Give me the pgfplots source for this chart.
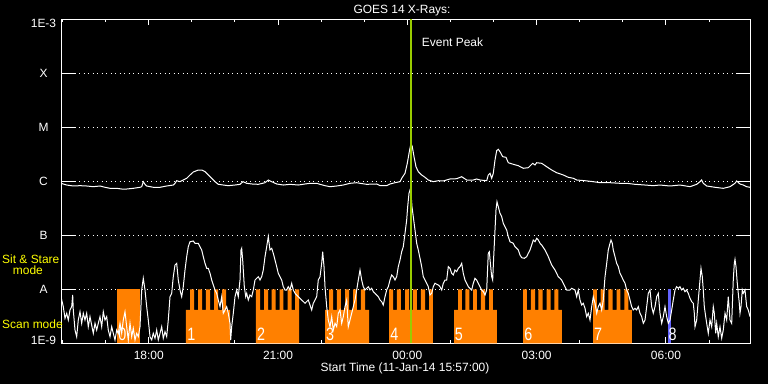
\documentclass[border=0pt]{standalone}
\usepackage{fontspec}
\setmainfont{Liberation Sans}
\usepackage{graphicx}
\usepackage{pgfplots}
\pgfplotsset{compat=1.18}
\definecolor{scanorange}{RGB}{255,128,0}
\definecolor{peakgreen}{RGB}{153,204,0}
\definecolor{ssblue}{RGB}{100,100,255}
\definecolor{labyellow}{RGB}{255,255,0}
\newcommand\txt{\fontsize{12}{14}\selectfont}
\newcommand\blk[1]{\scalebox{0.8}[1]{\fontsize{18}{18}\selectfont #1}}
\begin{document}
\begin{tikzpicture}
\fill[black] (-61bp,-40.7bp) rectangle (707bp,343.3bp);
\begin{axis}[
  at={(0,0)}, anchor=south west, scale only axis,
  width=689bp, height=324bp,
  xmin=15.965, xmax=31.95, ymin=-9, ymax=-3,
  axis line style={white, line width=1bp},
  xtick={18,21,24,27,30},
  xticklabels={18:00,21:00,00:00,03:00,06:00},
  minor xtick={16,17,19,20,22,23,25,26,28,29,31},
  major tick length=6bp, minor tick length=3bp,
  every tick/.style={white, line width=1bp},
  ytick={-9,-8,-7,-6,-5,-4,-3},
  yticklabels={\raisebox{3.6bp}{1E-9},A,B,C,M,X,\raisebox{-4bp}{1E-3}},
  ytick style={draw=none},
  ymajorgrids,
  major grid style={white, line width=1bp, dash pattern=on 1bp off 3.5bp},
  tick label style={white, font=\txt},
  xticklabel style={anchor=base, yshift=-16bp},
  yticklabel style={anchor=base, xshift=-17.5bp, yshift=-4.3bp},
]
% scan / sit-and-stare blocks
\addplot[fill=scanorange, draw=none] coordinates {(17.264,-9) (17.264,-8) (17.798,-8) (17.798,-9)};
\addplot[fill=scanorange, draw=none] coordinates {(18.865,-9) (18.865,-8.383) (18.958,-8.383) (18.958,-8) (19.051,-8) (19.051,-8.383) (19.144,-8.383) (19.144,-8) (19.237,-8) (19.237,-8.383) (19.329,-8.383) (19.329,-8) (19.422,-8) (19.422,-8.383) (19.515,-8.383) (19.515,-8) (19.608,-8) (19.608,-8.383) (19.701,-8.383) (19.701,-8) (19.794,-8) (19.794,-8.383) (19.886,-8.383) (19.886,-9)};
\addplot[fill=scanorange, draw=none] coordinates {(20.489,-9) (20.489,-8) (20.582,-8) (20.582,-8.383) (20.675,-8.383) (20.675,-8) (20.768,-8) (20.768,-8.383) (20.849,-8.383) (20.849,-8) (20.942,-8) (20.942,-8.383) (21.035,-8.383) (21.035,-8) (21.127,-8) (21.127,-8.383) (21.220,-8.383) (21.220,-8) (21.313,-8) (21.313,-8.383) (21.394,-8.383) (21.394,-8) (21.487,-8) (21.487,-9)};
\addplot[fill=scanorange, draw=none] coordinates {(22.090,-9) (22.090,-8.383) (22.183,-8.383) (22.183,-8) (22.276,-8) (22.276,-8.383) (22.368,-8.383) (22.368,-8) (22.461,-8) (22.461,-8.383) (22.554,-8.383) (22.554,-8) (22.647,-8) (22.647,-8.383) (22.740,-8.383) (22.740,-8) (22.832,-8) (22.832,-8.383) (22.925,-8.383) (22.925,-8) (23.018,-8) (23.018,-8.383) (23.111,-8.383) (23.111,-9)};
\addplot[fill=scanorange, draw=none] coordinates {(23.575,-9) (23.575,-8) (23.668,-8) (23.668,-8.383) (23.760,-8.383) (23.760,-8) (23.853,-8) (23.853,-8.383) (23.946,-8.383) (23.946,-8) (24.039,-8) (24.039,-8.383) (24.131,-8.383) (24.131,-8) (24.224,-8) (24.224,-8.383) (24.317,-8.383) (24.317,-8) (24.410,-8) (24.410,-8.383) (24.503,-8.383) (24.503,-8) (24.595,-8) (24.595,-9)};
\addplot[fill=scanorange, draw=none] coordinates {(25.083,-9) (25.083,-8.383) (25.176,-8.383) (25.176,-8) (25.268,-8) (25.268,-8.383) (25.349,-8.383) (25.349,-8) (25.442,-8) (25.442,-8.383) (25.524,-8.383) (25.524,-8) (25.616,-8) (25.616,-8.383) (25.709,-8.383) (25.709,-8) (25.802,-8) (25.802,-8.383) (25.895,-8.383) (25.895,-8) (25.987,-8) (25.987,-8.383) (26.080,-8.383) (26.080,-9)};
\addplot[fill=scanorange, draw=none] coordinates {(26.684,-9) (26.684,-8) (26.776,-8) (26.776,-8.383) (26.869,-8.383) (26.869,-8) (26.962,-8) (26.962,-8.383) (27.043,-8.383) (27.043,-8) (27.136,-8) (27.136,-8.383) (27.229,-8.383) (27.229,-8) (27.322,-8) (27.322,-8.383) (27.414,-8.383) (27.414,-8) (27.507,-8) (27.507,-8.383) (27.588,-8.383) (27.588,-9)};
\addplot[fill=scanorange, draw=none] coordinates {(28.308,-9) (28.308,-8) (28.400,-8) (28.400,-8.383) (28.482,-8.383) (28.482,-8) (28.575,-8) (28.575,-8.383) (28.667,-8.383) (28.667,-8) (28.760,-8) (28.760,-8.383) (28.853,-8.383) (28.853,-8) (28.945,-8) (28.945,-8.383) (29.038,-8.383) (29.038,-8) (29.131,-8) (29.131,-8.383) (29.212,-8.383) (29.212,-9)};
\addplot[fill=ssblue, draw=none] coordinates {(30.041,-9) (30.041,-8) (30.117,-8) (30.117,-9)};
% block numbers
\node[anchor=base west, inner sep=0, white] at (axis cs:17.29,-8.939) {\blk{0}};
\node[anchor=base west, inner sep=0, white] at (axis cs:18.89,-8.939) {\blk{1}};
\node[anchor=base west, inner sep=0, white] at (axis cs:20.51,-8.939) {\blk{2}};
\node[anchor=base west, inner sep=0, white] at (axis cs:22.11,-8.939) {\blk{3}};
\node[anchor=base west, inner sep=0, white] at (axis cs:23.60,-8.939) {\blk{4}};
\node[anchor=base west, inner sep=0, white] at (axis cs:25.10,-8.939) {\blk{5}};
\node[anchor=base west, inner sep=0, white] at (axis cs:26.71,-8.939) {\blk{6}};
\node[anchor=base west, inner sep=0, white] at (axis cs:28.33,-8.939) {\blk{7}};
\node[anchor=base west, inner sep=0, white] at (axis cs:30.06,-8.939) {\blk{8}};
% GOES long channel (log10 flux)
\addplot[white, line width=1bp] coordinates {
(15.965,-6.037) (16.097,-6.069) (16.250,-6.087) (16.406,-6.081) (16.561,-6.087) (16.714,-6.100) (16.870,-6.087) (16.986,-6.111) (17.102,-6.130) (17.257,-6.130) (17.373,-6.143) (17.489,-6.143) (17.642,-6.130) (17.798,-6.111) (17.837,-6.100) (17.874,-6.007) (17.914,-6.056) (17.953,-6.087) (18.106,-6.111) (18.262,-6.111) (18.417,-6.087) (18.570,-6.069) (18.610,-6.037) (18.649,-5.989) (18.726,-6.007) (18.802,-5.976) (18.881,-5.944) (18.958,-5.883) (19.034,-5.828) (19.150,-5.791) (19.229,-5.791) (19.306,-5.822) (19.382,-5.883) (19.461,-5.944) (19.538,-6.007) (19.614,-6.056) (19.730,-6.069) (19.846,-6.081) (20.002,-6.069) (20.118,-6.056) (20.187,-6.007) (20.273,-6.037) (20.396,-6.050) (20.542,-6.056) (20.698,-6.026) (20.774,-5.976) (20.853,-6.007) (20.969,-6.050) (21.122,-6.069) (21.278,-6.056) (21.470,-6.069) (21.626,-6.050) (21.742,-6.037) (21.897,-6.037) (21.974,-6.056) (22.090,-6.081) (22.206,-6.100) (22.361,-6.087) (22.514,-6.069) (22.670,-6.037) (22.825,-6.026) (22.902,-6.037) (23.057,-6.056) (23.289,-6.050) (23.366,-6.081) (23.521,-6.081) (23.598,-6.050) (23.714,-6.026) (23.830,-6.007) (23.869,-5.944) (23.946,-5.852) (23.999,-5.667) (24.046,-5.452) (24.085,-5.296) (24.115,-5.359) (24.155,-5.544) (24.201,-5.730) (24.254,-5.822) (24.333,-5.883) (24.410,-5.926) (24.486,-5.976) (24.602,-6.007) (24.718,-5.989) (24.834,-5.994) (24.990,-5.957) (25.145,-5.952) (25.261,-5.915) (25.377,-5.976) (25.530,-5.976) (25.609,-5.957) (25.686,-5.976) (25.841,-5.989) (25.878,-5.883) (25.918,-5.852) (25.957,-5.944) (25.994,-5.852) (26.034,-5.606) (26.073,-5.433) (26.110,-5.407) (26.150,-5.452) (26.212,-5.544) (26.289,-5.556) (26.342,-5.656) (26.458,-5.685) (26.574,-5.711) (26.690,-5.759) (26.806,-5.748) (26.908,-5.667) (26.962,-5.698) (27.001,-5.656) (27.117,-5.667) (27.233,-5.730) (27.349,-5.791) (27.465,-5.841) (27.618,-5.883) (27.734,-5.926) (27.850,-5.944) (27.929,-5.976) (28.122,-5.989) (28.314,-6.007) (28.470,-6.026) (28.702,-6.026) (28.934,-6.037) (29.089,-6.037) (29.282,-6.056) (29.514,-6.069) (29.706,-6.081) (29.862,-6.069) (30.094,-6.087) (30.326,-6.069) (30.558,-6.100) (30.713,-6.056) (30.790,-6.007) (30.829,-5.976) (30.866,-6.037) (30.945,-6.087) (31.138,-6.111) (31.330,-6.130) (31.486,-6.100) (31.602,-6.037) (31.641,-5.994) (31.718,-6.050) (31.794,-6.069) (31.873,-6.100) (31.950,-6.111)};
% GOES short channel (log10 flux)
\addplot[white, line width=1bp] coordinates {
(15.965,-8.137) (16.018,-8.322) (16.058,-8.537) (16.097,-8.444) (16.134,-8.569) (16.174,-8.383) (16.213,-8.322) (16.236,-8.106) (16.250,-8.383) (16.290,-8.754) (16.329,-8.878) (16.366,-8.569) (16.406,-8.415) (16.445,-8.630) (16.482,-8.444) (16.522,-8.569) (16.561,-8.444) (16.598,-8.693) (16.638,-8.507) (16.714,-8.815) (16.754,-8.630) (16.793,-8.754) (16.830,-8.630) (16.870,-8.507) (16.909,-8.693) (16.946,-8.415) (16.986,-8.569) (17.025,-8.507) (17.062,-8.754) (17.102,-8.878) (17.141,-8.693) (17.178,-8.815) (17.218,-8.939) (17.257,-8.754) (17.294,-8.815) (17.334,-8.630) (17.373,-8.815) (17.410,-8.569) (17.450,-8.415) (17.489,-8.693) (17.526,-8.939) (17.566,-8.630) (17.605,-8.878) (17.642,-8.722) (17.682,-8.939) (17.721,-8.815) (17.758,-8.878) (17.798,-8.693) (17.837,-8.013) (17.874,-7.796) (17.914,-8.013) (17.953,-8.322) (17.990,-8.569) (18.030,-8.878) (18.069,-8.939) (18.106,-8.815) (18.146,-8.907) (18.185,-8.754) (18.222,-8.939) (18.262,-8.815) (18.301,-8.693) (18.338,-8.907) (18.378,-8.785) (18.417,-8.878) (18.454,-8.569) (18.494,-8.137) (18.533,-8.074) (18.570,-7.767) (18.610,-7.550) (18.649,-7.519) (18.686,-7.828) (18.726,-8.013) (18.765,-8.137) (18.802,-7.952) (18.842,-7.643) (18.881,-7.396) (18.918,-7.211) (18.958,-7.119) (19.034,-7.106) (19.074,-7.148) (19.150,-7.148) (19.190,-7.211) (19.229,-7.272) (19.266,-7.396) (19.306,-7.519) (19.345,-7.611) (19.382,-7.611) (19.422,-7.704) (19.461,-7.828) (19.538,-8.013) (19.577,-8.074) (19.614,-8.198) (19.654,-8.322) (19.693,-8.137) (19.730,-8.444) (19.770,-8.383) (19.809,-8.322) (19.846,-8.444) (19.886,-8.630) (19.902,-8.939) (19.925,-8.693) (19.962,-8.444) (20.002,-8.137) (20.041,-8.013) (20.078,-8.137) (20.118,-7.828) (20.141,-7.272) (20.157,-7.241) (20.180,-7.457) (20.218,-7.952) (20.250,-8.137) (20.273,-8.074) (20.310,-8.198) (20.350,-8.106) (20.389,-8.137) (20.426,-8.013) (20.466,-7.828) (20.505,-7.796) (20.542,-7.767) (20.582,-7.828) (20.621,-7.767) (20.658,-7.643) (20.698,-7.396) (20.737,-7.211) (20.774,-7.026) (20.814,-7.272) (20.853,-7.241) (20.890,-7.333) (20.930,-7.457) (20.969,-7.581) (21.006,-7.704) (21.046,-7.767) (21.085,-7.828) (21.122,-7.952) (21.162,-8.013) (21.201,-8.013) (21.238,-7.952) (21.278,-8.013) (21.317,-7.889) (21.354,-8.013) (21.394,-8.074) (21.470,-8.137) (21.549,-8.198) (21.626,-8.259) (21.702,-8.198) (21.781,-8.383) (21.818,-8.259) (21.858,-8.198) (21.897,-8.137) (21.934,-7.828) (21.974,-7.767) (22.013,-7.519) (22.036,-7.304) (22.067,-7.581) (22.090,-7.952) (22.129,-8.322) (22.166,-8.569) (22.206,-8.693) (22.245,-8.507) (22.282,-8.754) (22.322,-8.630) (22.361,-8.693) (22.398,-8.444) (22.438,-8.383) (22.477,-8.630) (22.514,-8.507) (22.554,-8.322) (22.593,-8.198) (22.630,-8.693) (22.670,-8.569) (22.709,-8.444) (22.746,-8.322) (22.786,-8.198) (22.825,-8.013) (22.862,-7.828) (22.902,-7.643) (22.941,-7.828) (22.978,-7.952) (23.018,-8.013) (23.057,-7.981) (23.094,-7.952) (23.134,-8.013) (23.173,-7.981) (23.210,-8.044) (23.250,-8.074) (23.289,-8.106) (23.326,-8.137) (23.366,-8.198) (23.405,-8.230) (23.442,-8.291) (23.482,-8.137) (23.521,-8.013) (23.558,-7.952) (23.598,-7.828) (23.637,-7.735) (23.674,-7.767) (23.714,-7.828) (23.753,-7.767) (23.790,-7.581) (23.830,-7.457) (23.869,-7.304) (23.906,-7.211) (23.946,-6.963) (23.985,-6.717) (24.008,-6.470) (24.039,-6.222) (24.062,-6.161) (24.085,-6.222) (24.108,-6.470) (24.138,-6.656) (24.178,-6.902) (24.217,-7.148) (24.254,-7.272) (24.294,-7.426) (24.333,-7.581) (24.370,-7.767) (24.410,-7.828) (24.449,-7.889) (24.486,-7.952) (24.526,-8.106) (24.565,-8.074) (24.602,-7.952) (24.642,-7.889) (24.718,-7.920) (24.758,-7.952) (24.797,-8.013) (24.834,-7.889) (24.874,-7.828) (24.913,-7.828) (24.950,-7.581) (24.990,-7.611) (25.029,-7.704) (25.066,-7.735) (25.106,-7.643) (25.145,-7.674) (25.182,-7.611) (25.222,-7.581) (25.261,-7.519) (25.298,-7.704) (25.338,-7.828) (25.377,-7.889) (25.414,-7.952) (25.493,-8.013) (25.530,-7.889) (25.570,-7.796) (25.609,-7.828) (25.646,-7.889) (25.686,-7.952) (25.725,-8.013) (25.762,-8.044) (25.802,-8.106) (25.841,-8.013) (25.878,-7.333) (25.902,-7.304) (25.934,-7.581) (25.957,-7.767) (25.980,-7.828) (26.004,-7.396) (26.034,-6.902) (26.057,-6.531) (26.080,-6.378) (26.110,-6.470) (26.150,-6.593) (26.189,-6.656) (26.226,-6.778) (26.266,-6.841) (26.305,-6.902) (26.342,-7.026) (26.382,-7.119) (26.458,-7.148) (26.498,-7.211) (26.574,-7.272) (26.614,-7.365) (26.653,-7.415) (26.714,-7.426) (26.769,-7.396) (26.806,-7.333) (26.846,-7.272) (26.885,-7.180) (26.922,-7.087) (26.962,-7.119) (27.001,-7.056) (27.038,-7.087) (27.078,-7.148) (27.117,-7.180) (27.194,-7.272) (27.270,-7.396) (27.349,-7.550) (27.426,-7.643) (27.502,-7.767) (27.542,-7.796) (27.581,-7.828) (27.618,-7.889) (27.658,-7.952) (27.697,-8.013) (27.774,-8.013) (27.813,-7.981) (27.890,-8.013) (27.929,-8.137) (27.966,-8.013) (28.006,-8.198) (28.045,-8.291) (28.082,-8.259) (28.122,-8.352) (28.161,-8.507) (28.198,-8.444) (28.238,-8.569) (28.277,-8.322) (28.314,-8.137) (28.354,-8.259) (28.393,-8.444) (28.430,-8.322) (28.470,-8.259) (28.509,-8.383) (28.546,-8.198) (28.586,-7.767) (28.625,-7.519) (28.662,-7.272) (28.702,-7.148) (28.725,-7.087) (28.755,-7.148) (28.778,-7.272) (28.818,-7.396) (28.857,-7.519) (28.894,-7.581) (28.934,-7.704) (28.973,-7.767) (29.010,-7.828) (29.050,-7.889) (29.089,-8.013) (29.126,-8.074) (29.166,-8.198) (29.205,-8.322) (29.242,-8.383) (29.282,-8.352) (29.321,-8.383) (29.358,-8.322) (29.398,-8.444) (29.437,-8.507) (29.474,-8.630) (29.514,-8.569) (29.553,-8.322) (29.590,-8.074) (29.630,-8.013) (29.669,-8.322) (29.706,-8.444) (29.746,-8.322) (29.785,-8.137) (29.822,-8.074) (29.862,-8.444) (29.901,-8.630) (29.938,-8.507) (29.978,-8.322) (30.017,-8.507) (30.054,-8.630) (30.094,-8.569) (30.133,-8.383) (30.170,-8.198) (30.210,-8.013) (30.249,-7.952) (30.286,-7.981) (30.326,-7.952) (30.365,-8.013) (30.402,-7.981) (30.442,-8.044) (30.481,-8.013) (30.518,-8.074) (30.558,-8.167) (30.597,-8.230) (30.634,-8.259) (30.658,-8.444) (30.674,-8.693) (30.713,-8.569) (30.750,-8.198) (30.790,-7.828) (30.813,-7.611) (30.843,-7.767) (30.866,-8.013) (30.890,-8.322) (30.922,-8.507) (30.945,-8.630) (30.982,-8.815) (31.022,-8.569) (31.061,-8.693) (31.098,-8.322) (31.122,-8.444) (31.154,-8.815) (31.177,-8.630) (31.214,-8.878) (31.254,-8.693) (31.293,-8.907) (31.330,-8.754) (31.370,-8.444) (31.409,-8.569) (31.446,-8.137) (31.486,-8.569) (31.525,-8.630) (31.562,-7.828) (31.586,-7.519) (31.602,-7.444) (31.625,-7.581) (31.655,-7.889) (31.678,-8.074) (31.702,-8.259) (31.718,-8.444) (31.741,-8.322) (31.771,-8.013) (31.794,-8.074) (31.834,-8.013) (31.873,-8.322) (31.910,-8.383) (31.950,-8.507)};
% event peak marker
\addplot[peakgreen, line width=2bp] coordinates {(24.085,-9) (24.085,-3)};
\end{axis}
% solid y tick stubs at both sides
\foreach \yy in {54,108,162,216,270}{
  \draw[white, line width=1bp] (0,\yy bp) -- (14bp,\yy bp);
  \draw[white, line width=1bp] (675bp,\yy bp) -- (689bp,\yy bp);
}
\node[anchor=base, inner sep=0, white, font=\txt] at (341bp,329.3bp) {GOES 14 X-Rays:};
\node[anchor=base, inner sep=0, white, font=\txt] at (344bp,-27.7bp) {Start Time (11-Jan-14 15:57:00)};
\node[anchor=base west, inner sep=0, white, font=\txt] at (360.7bp,296.3bp) {Event Peak};
\node[anchor=base west, inner sep=0, labyellow, font=\txt] at (-59bp,80bp) {Sit \& Stare};
\node[anchor=base west, inner sep=0, labyellow, font=\txt] at (-48.3bp,68.3bp) {mode};
\node[anchor=base west, inner sep=0, labyellow, font=\txt] at (-59bp,15bp) {Scan mode};
\pgfresetboundingbox
\path (-61bp,-40.7bp) rectangle (707bp,343.3bp);
\end{tikzpicture}
\end{document}
